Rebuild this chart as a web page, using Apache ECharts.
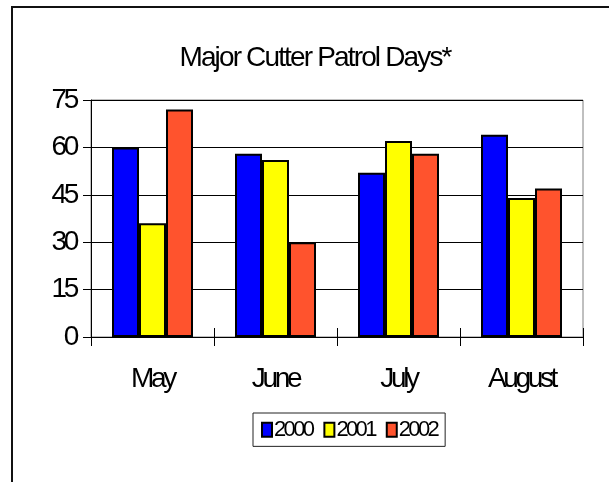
<!DOCTYPE html>
<html>
<head>
<meta charset="utf-8">
<script src="https://cdn.jsdelivr.net/npm/echarts@6/dist/echarts.min.js"></script>
<style>html,body{margin:0;padding:0;background:#fff;}#c{width:609px;height:482px;}</style>
</head>
<body>
<div id="c"></div>
<script>
const categories = ['May', 'June', 'July', 'August'];
const s2000 = [60, 58, 52, 64];
const s2001 = [36, 56, 62, 44];
const s2002 = [72, 30, 58, 47];
const yTicks = [0, 15, 30, 45, 60, 75];

// Condensed glyph spacing (the reference uses tightly kerned Arial)
(function () {
  const P = CanvasRenderingContext2D.prototype;
  if (!('letterSpacing' in P)) return;
  function setLS(ctx) {
    const f = ctx.font || '';
    const m = /([\d.]+)px/.exec(f);
    const size = m ? parseFloat(m[1]) : 12;
    let ls = 0;
    if (/Arial/.test(f)) ls = -0.12 * size;
    else if (/Liberation Sans/.test(f)) ls = -0.066 * size;
    ctx.letterSpacing = ls.toFixed(2) + 'px';
  }
  ['fillText', 'strokeText', 'measureText'].forEach(function (fn) {
    const orig = P[fn];
    P[fn] = function () { setLS(this); return orig.apply(this, arguments); };
  });
})();

const TITLE_FONT = "'Liberation Sans'";
const FONT = "Arial";
const chart = echarts.init(document.getElementById('c'), null, {renderer: 'canvas'});
function bar(name, data, color) {
  return {
    name, type: 'bar', data, barWidth: 27, barGap: '0%',
    xAxisIndex: 0, yAxisIndex: 0,
    itemStyle: {color, borderColor: '#000', borderWidth: 2},
    emphasis: {disabled: true}, animation: false
  };
}
chart.setOption({
  animation: false,
  graphic: [{
    type: 'rect', shape: {x: 12, y: 7, width: 800, height: 700},
    style: {fill: 'none', stroke: '#111', lineWidth: 2}, silent: true
  }],
  title: {
    text: 'Major Cutter Patrol Days*', left: 310, top: 40, textAlign: 'center',
    textStyle: {fontFamily: TITLE_FONT, fontSize: 28, fontWeight: 'normal', color: '#000'}
  },
  grid: {left: 91, right: 26, top: 100, bottom: 145, show: true, borderColor: '#808080', borderWidth: 1, containLabel: false},
  legend: {
    data: ['2000', '2001', '2002'], left: 253, top: 413,
    orient: 'horizontal', icon: 'rect', itemWidth: 10, itemHeight: 14, itemGap: 11,
    padding: [7, 8], borderColor: '#222', borderWidth: 1,
    textStyle: {fontFamily: FONT, fontSize: 22, color: '#000', padding: [0, 0, 0, -3]},
    selectedMode: false
  },
  xAxis: [{
    type: 'category', data: categories, position: 'bottom',
    axisLine: {lineStyle: {color: '#000', width: 1}},
    axisTick: {show: true, inside: false, length: 9, lineStyle: {color: '#000'}},
    axisLabel: {fontFamily: FONT, fontSize: 28, color: '#000', margin: 30},
    splitLine: {show: false}
  }, {
    type: 'category', data: categories, position: 'bottom',
    axisLine: {show: true, lineStyle: {color: 'rgba(0,0,0,0)'}},
    axisTick: {show: true, inside: true, length: 9, lineStyle: {color: '#000', width: 1}},
    axisLabel: {show: false},
    splitLine: {show: false}, z: 10
  }],
  yAxis: {
    type: 'value', min: 0, max: 75, interval: 15,
    axisLine: {show: true, lineStyle: {color: '#000', width: 1}},
    axisTick: {show: true, inside: false, length: 8, lineStyle: {color: '#000'}},
    axisLabel: {fontFamily: FONT, fontSize: 28, color: '#000', margin: 15,
      formatter: v => yTicks.includes(v) ? String(v) : ''},
    splitLine: {show: true, lineStyle: {color: '#000', width: 1}}
  },
  series: [
    bar('2000', s2000, '#0000FF'),
    bar('2001', s2001, '#FFFF00'),
    bar('2002', s2002, '#FF532D')
  ]
});
</script>
</body>
</html>
